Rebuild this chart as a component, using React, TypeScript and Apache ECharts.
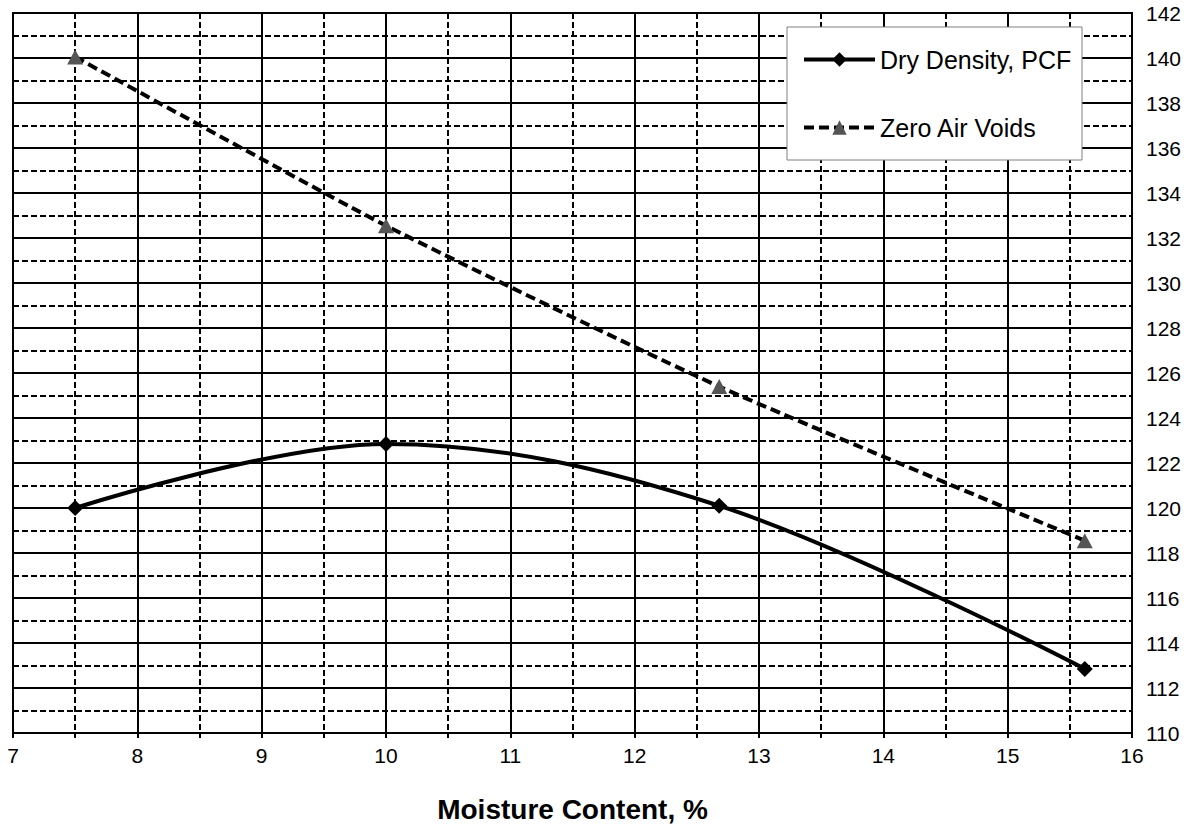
import React, { useEffect, useRef } from "react";
import * as echarts from "echarts";

const moisture = [7.5, 10.0, 12.68, 15.62];
const dryDensity = [120.0, 122.85, 120.1, 112.85];
const zeroAirVoids = [140.05, 132.55, 125.4, 118.55];
const xTicks = { min: 7, max: 16, interval: 1 };
const yTicks = { min: 110, max: 142, interval: 2 };
const seriesNames = ["Dry Density, PCF", "Zero Air Voids"];
const xTitle = "Moisture Content, %";

const FONT = "Liberation Sans, Arial, sans-serif";

export default function App() {
  const ref = useRef<HTMLDivElement>(null);
  useEffect(() => {
    if (!ref.current) return;
    const chart = echarts.init(ref.current, undefined, { renderer: "svg" });
    const dd = moisture.map((m, i) => [m, dryDensity[i]]);
    const zav = moisture.map((m, i) => [m, zeroAirVoids[i]]);
    chart.setOption({
      animation: false,
      backgroundColor: "#ffffff",
      textStyle: { fontFamily: FONT },
      grid: {
        left: 13,
        right: 61,
        top: 13,
        bottom: 92,
        show: true,
        borderColor: "#000",
        borderWidth: 2,
        backgroundColor: "transparent",
        outerBoundsMode: "none",
        containLabel: false,
      },
      graphic: [
        {
          type: "rect",
          shape: { x: 787, y: 27, width: 295, height: 133 },
          style: { fill: "#fff", stroke: "#808080", lineWidth: 1 },
          z: 50,
        },
      ],
      legend: {
        show: true,
        orient: "vertical",
        left: 802,
        top: 47,
        padding: 0,
        itemGap: 43,
        itemWidth: 71,
        itemHeight: 18,
        z: 60,
        textStyle: { fontSize: 25, color: "#000", fontFamily: FONT },
        data: [
          { name: seriesNames[0], lineStyle: { width: 4, color: "#000", type: "solid" } },
          { name: seriesNames[1], lineStyle: { width: 4, color: "#000", type: [10, 5] } },
        ],
      },
      xAxis: {
        type: "value",
        min: xTicks.min,
        max: xTicks.max,
        interval: xTicks.interval,
        name: xTitle,
        nameLocation: "middle",
        nameGap: 61,
        nameTextStyle: {
          fontSize: 28,
          lineHeight: 30,
          fontWeight: "bold",
          color: "#000",
          fontFamily: FONT,
        },
        axisLine: { show: true, onZero: false, lineStyle: { color: "#000", width: 2 } },
        axisTick: { show: true, inside: false, length: 5, lineStyle: { color: "#000", width: 2 } },
        minorTick: { show: true, splitNumber: 2, length: 5, lineStyle: { color: "#000", width: 2 } },
        axisLabel: { fontSize: 21, color: "#000", margin: 12, fontFamily: FONT },
        splitLine: { show: true, lineStyle: { color: "#000", width: 2 } },
        minorSplitLine: { show: true, lineStyle: { color: "#000", width: 2, type: [6, 3] } },
      },
      yAxis: {
        type: "value",
        position: "right",
        min: yTicks.min,
        max: yTicks.max,
        interval: yTicks.interval,
        axisLine: { show: true, lineStyle: { color: "#000", width: 2 } },
        axisTick: { show: false },
        minorTick: { show: false, splitNumber: 2 },
        axisLabel: { fontSize: 21, color: "#000", margin: 14, fontFamily: FONT },
        splitLine: { show: true, lineStyle: { color: "#000", width: 2 } },
        minorSplitLine: { show: true, lineStyle: { color: "#000", width: 2, type: [6, 3] } },
      },
      series: [
        {
          name: seriesNames[0],
          type: "line",
          data: dd,
          smooth: 0.35,
          symbol: "diamond",
          symbolSize: 16,
          itemStyle: { color: "#000" },
          lineStyle: { color: "#000", width: 4 },
          z: 5,
        },
        {
          name: seriesNames[1],
          type: "line",
          data: zav,
          smooth: 0.2,
          symbol: "triangle",
          symbolSize: [16, 15],
          itemStyle: { color: "#555555" },
          lineStyle: { color: "#000", width: 4, type: [10, 5] },
          z: 4,
        },
      ],
    });
    return () => chart.dispose();
  }, []);
  return (
    <div
      ref={ref}
      style={{ position: "fixed", left: 0, top: 0, width: 1193, height: 825, background: "#fff" }}
    />
  );
}
